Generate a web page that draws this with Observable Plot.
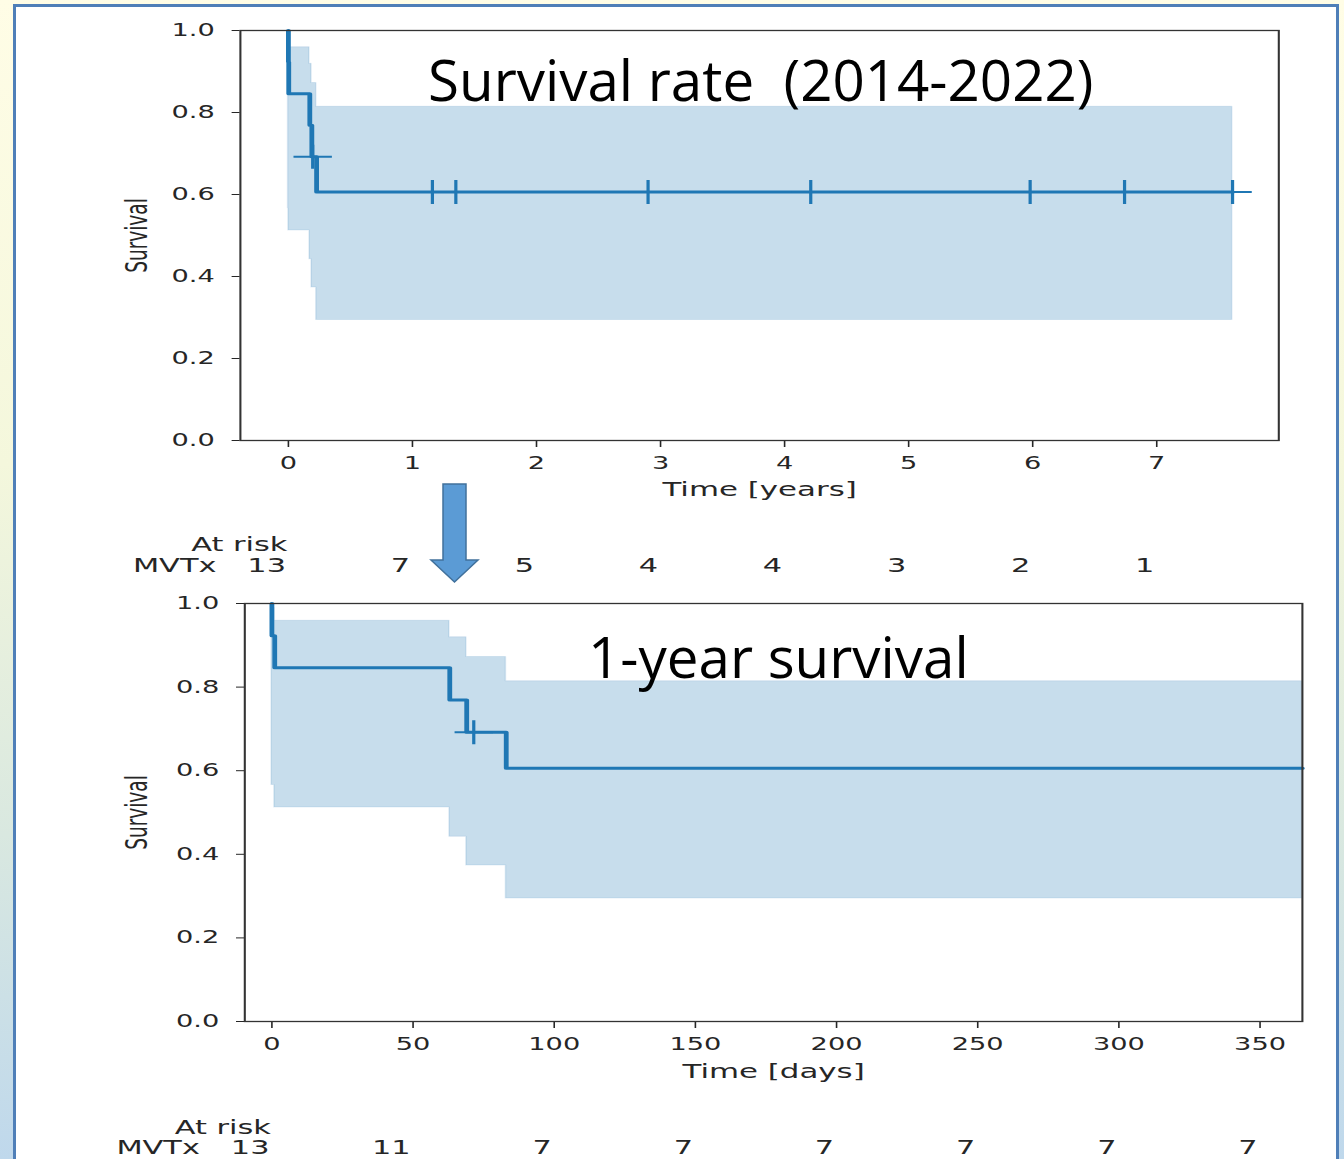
<!DOCTYPE html>
<html>
<head>
<meta charset="utf-8">
<script src="https://cdn.jsdelivr.net/npm/d3@7"></script>
<script src="https://cdn.jsdelivr.net/npm/@observablehq/plot@0.6"></script>
<style>
html, body { margin: 0; padding: 0; width: 1344px; height: 1159px; overflow: hidden; }
body {
  position: relative;
  background: linear-gradient(to bottom, #fffde6 0%, #f4f7dc 40%, #d9e8e0 72%, #bfd8ec 100%);
  font-family: "DejaVu Sans", sans-serif;
}
#panel { position: absolute; left: 13px; top: 4px; right: 5px; bottom: -40px; background: #fff; border: 3px solid #4f7fb8; }
.chart { position: absolute; transform-origin: 0 0; transform: scaleX(1.6); }
.chart svg { max-width: none !important; overflow: visible; }
#overlay { position: absolute; left: 0; top: 0; }
</style>
</head>
<body>
<div id="panel"></div>
<div id="top" class="chart" style="left:110px; top:10px; width:740px;"></div>
<div id="bottom" class="chart" style="left:100px; top:585px; width:760px;"></div>
<svg id="overlay" width="1344" height="1159">
  <polygon points="443,484 466,484 466,560 478,560 454.5,582 431,560 443,560" fill="#5b9bd5" stroke="#41719c" stroke-width="1.5"/>
  <text x="428" y="101" font-family="Open Sans" font-size="56.5" fill="#000" style="white-space:pre">Survival rate  (2014-2022)</text>
  <text x="588" y="678" font-family="Open Sans" font-size="56.5" fill="#000">1-year survival</text>
</svg>
<script>
// ---- data ----
const DAYS_PER_YEAR = 365.25;
const eventDays      = [0, 1, 63, 69, 83];                  // death times (days)
const survival       = [0.923, 0.846, 0.769, 0.692, 0.606]; // KM estimate after each event
const ciLow          = [0.566, 0.512, 0.442, 0.373, 0.294];
const ciHigh         = [0.989, 0.959, 0.919, 0.872, 0.814];
const censorDays     = [71.5, 424, 493, 1059, 1538, 2184, 2462, 2780];
const censorSurvival = [0.692, 0.606, 0.606, 0.606, 0.606, 0.606, 0.606, 0.606];
const yearTicks   = [0, 1, 2, 3, 4, 5, 6, 7];
const yearAtRisk  = [13, 7, 5, 4, 4, 3, 2, 1];
const dayTicks    = [0, 50, 100, 150, 200, 250, 300, 350];
const dayAtRisk   = [13, 11, 7, 7, 7, 7, 7, 7];
const survTicks   = [0, 0.2, 0.4, 0.6, 0.8, 1.0];

const C0 = "#1f77b4";
const INK = "#262626";
const plusSymbol = {
  draw(ctx, size) {
    const r = Math.sqrt(size / Math.PI);
    ctx.moveTo(-r, 0); ctx.lineTo(r, 0);
    ctx.moveTo(0, -r); ctx.lineTo(0, r);
  }
};

function kmChart(o) {
  const conv = d => d / o.unit;
  const endDays = o.endDays;
  const line = [{t: 0, s: 1}]
    .concat(eventDays.map((d, i) => ({t: conv(d), s: survival[i]})))
    .concat([{t: conv(endDays), s: survival[survival.length - 1]}]);
  const band = eventDays.map((d, i) => ({t: conv(d), lo: ciLow[i], hi: ciHigh[i]}))
    .concat([{t: conv(endDays), lo: ciLow[ciLow.length - 1], hi: ciHigh[ciHigh.length - 1]}]);
  const cens = censorDays.map((d, i) => ({t: conv(d), s: censorSurvival[i]}))
    .filter(d => d.t <= o.xDomain[1]);
  const risk = o.xTicks.map((t, i) => ({t, n: o.atRisk[i]}));

  return Plot.plot({
    width: o.width, height: o.height,
    marginLeft: o.ml, marginRight: o.mr, marginTop: o.mt, marginBottom: o.mb,
    style: {fontFamily: "DejaVu Sans", fontSize: "17px", color: INK, background: "transparent", overflow: "visible", maxWidth: "none"},
    x: {domain: o.xDomain, ticks: o.xTicks, tickSize: 7, tickPadding: 9, tickFormat: d => String(d), label: null},
    y: {domain: [0, 1], ticks: survTicks, tickSize: 5, tickPadding: 11, tickFormat: d => d.toFixed(1), label: null},
    marks: [
      Plot.areaY(band, {x: "t", y1: "lo", y2: "hi", curve: "step-after", fill: C0, fillOpacity: 0.25, stroke: C0, strokeOpacity: 0.12, strokeWidth: 1}),
      Plot.line(line, {x: "t", y: "s", curve: "step-after", stroke: C0, strokeWidth: 3}),
      Plot.dot(cens, {x: "t", y: "s", symbol: plusSymbol, r: 12, stroke: C0, strokeWidth: 2, fill: "none"}),
      Plot.frame({stroke: "#333", strokeWidth: 1.3}),
      Plot.text([o.xLabel], {frameAnchor: "bottom", lineAnchor: "middle", textAnchor: "middle", dy: o.xlabelDy, fontSize: 19.3, fill: INK}),
      Plot.text(["Survival"], {frameAnchor: "left", lineAnchor: "middle", textAnchor: "middle", dx: o.ylabelDx, rotate: -90, fontSize: 18.5, fill: INK}),
      Plot.text(risk.slice(0, 1), {x: "t", text: () => "At risk", frameAnchor: "bottom", lineAnchor: "middle", dy: o.riskDy1, dx: -0.6, textAnchor: "end", fontSize: 19, fill: INK}),
      Plot.text(risk.slice(0, 1), {x: "t", text: () => "MVTx", frameAnchor: "bottom", lineAnchor: "middle", dy: o.riskDy2, dx: -45, textAnchor: "end", fontSize: 19, fill: INK}),
      Plot.text(risk, {x: "t", text: d => String(d.n), frameAnchor: "bottom", lineAnchor: "middle", dy: o.riskDy2, dx: -1.5, textAnchor: "end", fontSize: 19, fill: INK})
    ]
  });
}

document.getElementById("top").append(kmChart({
  unit: DAYS_PER_YEAR,
  xDomain: [-0.387, 7.984], xTicks: yearTicks, atRisk: yearAtRisk,
  endDays: censorDays[censorDays.length - 1],
  xLabel: "Time [years]",
  width: 740, height: 570, ml: 81, mr: 10, mt: 20, mb: 140,
  xlabelDy: 49, ylabelDx: -64, riskDy1: 104, riskDy2: 125
}));

document.getElementById("bottom").append(kmChart({
  unit: 1,
  xDomain: [-9.6, 365], xTicks: dayTicks, atRisk: dayAtRisk,
  endDays: 365,
  xLabel: "Time [days]",
  width: 760, height: 590, ml: 90, mr: 9, mt: 18, mb: 154,
  xlabelDy: 50, ylabelDx: -67, riskDy1: 106, riskDy2: 126
}));
</script>
</body>
</html>
